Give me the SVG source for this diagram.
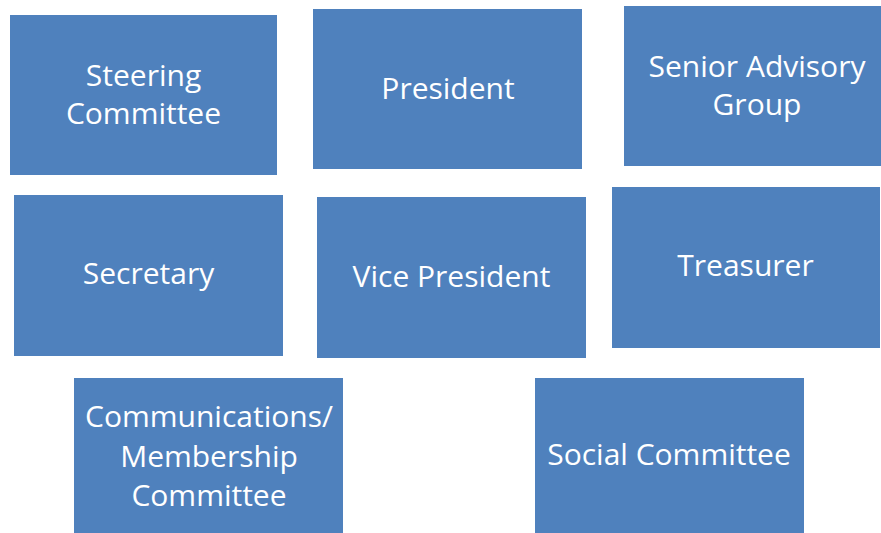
<svg xmlns="http://www.w3.org/2000/svg" width="881" height="533" viewBox="0 0 881 533">
<style>
.box{fill:#4F81BD;}
.t{fill:#FFFFFF;font-family:"Open Sans","Liberation Sans",sans-serif;font-size:30px;text-anchor:middle;}
</style>
<rect width="881" height="533" fill="#FFFFFF"/>
<g id="connectors"></g>
<g id="steering-committee">
<rect class="box" x="10" y="15" width="267" height="160"/>
<text class="t" x="143.5" y="86">Steering</text>
<text class="t" x="143.5" y="124">Committee</text>
</g>
<g id="president">
<rect class="box" x="313" y="9" width="269" height="160"/>
<text class="t" x="448" y="99">President</text>
</g>
<g id="senior-advisory-group">
<rect class="box" x="624" y="6" width="257" height="160"/>
<text class="t" x="757" y="77">Senior Advisory</text>
<text class="t" x="757" y="115">Group</text>
</g>
<g id="secretary">
<rect class="box" x="14" y="195" width="269" height="161"/>
<text class="t" x="148.5" y="284">Secretary</text>
</g>
<g id="vice-president">
<rect class="box" x="317" y="197" width="269" height="161"/>
<text class="t" x="451.5" y="287">Vice President</text>
</g>
<g id="treasurer">
<rect class="box" x="612" y="187" width="268" height="161"/>
<text class="t" x="745.5" y="276">Treasurer</text>
</g>
<g id="communications-membership-committee">
<rect class="box" x="74" y="378" width="269" height="155"/>
<text class="t" x="209" y="427">Communications/</text>
<text class="t" x="209" y="467">Membership</text>
<text class="t" x="209" y="506">Committee</text>
</g>
<g id="social-committee">
<rect class="box" x="535" y="378" width="269" height="155"/>
<text class="t" x="669" y="465">Social Committee</text>
</g>
</svg>
